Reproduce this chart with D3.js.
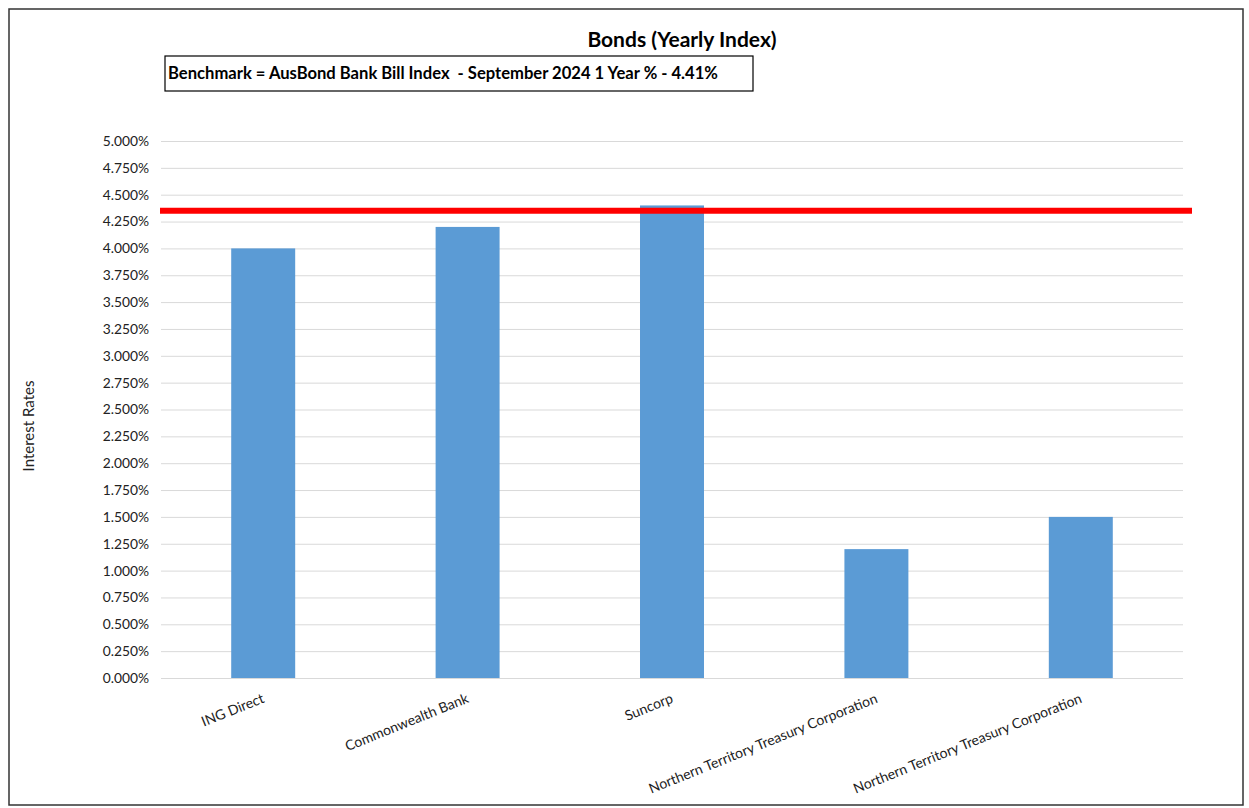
<!DOCTYPE html>
<html><head><meta charset="utf-8">
<script src="https://cdn.jsdelivr.net/npm/d3@7"></script>
<style>body{margin:0;background:#fff;font-family:Lato,"Open Sans",sans-serif}</style>
</head><body><svg id="c" width="1249" height="808"></svg>
<script>
const categories = ["ING Direct","Commonwealth Bank","Suncorp","Northern Territory Treasury Corporation","Northern Territory Treasury Corporation "];
const rates = [4.0, 4.2, 4.4, 1.2, 1.5];
const benchmark = [4.35];
const yTicks = [0,0.25,0.5,0.75,1,1.25,1.5,1.75,2,2.25,2.5,2.75,3,3.25,3.5,3.75,4,4.25,4.5,4.75,5];
const title = "Bonds (Yearly Index)";
const note = "Benchmark = AusBond Bank Bill Index  - September 2024 1 Year % - 4.41%";
const yTitle = "Interest Rates";

const svg = d3.select("#c");
svg.append("rect").attr("x",9).attr("y",9).attr("width",1234).attr("height",796)
  .attr("fill","#fff").attr("stroke","#333").attr("stroke-width",1.5);

const pL=161,pR=1183,pT=141,pB=678;
const x = d3.scaleBand().domain(categories).range([pL,pR]).paddingInner(0.687).paddingOuter(0.3435);
const y = d3.scaleLinear().domain([0,5]).range([pB,pT]);

const yAxis = svg.append("g").attr("transform",`translate(${pL},0)`)
  .call(d3.axisLeft(y).tickValues(yTicks).tickFormat(d=>d3.format(".3f")(d)+"%").tickSize(-(pR-pL)).tickPadding(12));
yAxis.select(".domain").remove();
yAxis.selectAll(".tick line").attr("stroke","#d9d9d9").attr("stroke-width",1);
yAxis.selectAll(".tick text").attr("font-size",13.8).attr("fill","#222").attr("font-family","Lato,sans-serif");

svg.append("g").selectAll("rect").data(rates).join("rect")
  .attr("x",(d,i)=>x(categories[i])).attr("width",x.bandwidth())
  .attr("y",d=>y(d)).attr("height",d=>y(0)-y(d)).attr("fill","#5b9bd5");

svg.append("line").attr("x1",160).attr("x2",1192)
  .attr("y1",y(benchmark[0])).attr("y2",y(benchmark[0]))
  .attr("stroke","#ff0000").attr("stroke-width",6);

const xAxis = svg.append("g").attr("transform",`translate(0,${pB})`)
  .call(d3.axisBottom(x).tickSize(0).tickPadding(0));
xAxis.select(".domain").remove();
xAxis.selectAll(".tick text").attr("font-size",14).attr("fill","#222")
  .attr("font-family","Lato,sans-serif")
  .attr("text-anchor","end").attr("dy",0).attr("y",0)
  .attr("transform","translate(2,24) rotate(-22)");

svg.append("text").attr("x",682).attr("y",47).attr("text-anchor","middle")
  .attr("font-size",21).attr("font-weight","bold").attr("fill","#000").text(title);

svg.append("rect").attr("x",165).attr("y",56).attr("width",588).attr("height",35)
  .attr("fill","none").attr("stroke","#000").attr("stroke-width",1.2);
svg.append("text").attr("x",168).attr("y",79).attr("font-size",16.6).attr("font-weight","bold")
  .style("white-space","pre").attr("xml:space","preserve")
  .attr("fill","#000").text(note);

svg.append("text").attr("transform","translate(34,426) rotate(-90)").attr("text-anchor","middle")
  .attr("font-size",15).attr("fill","#222").text(yTitle);
</script></body></html>
